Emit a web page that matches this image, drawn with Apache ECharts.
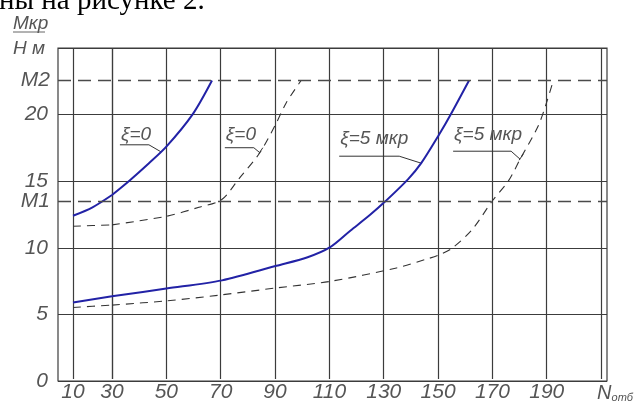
<!DOCTYPE html>
<html><head><meta charset="utf-8">
<script src="https://cdn.jsdelivr.net/npm/echarts@6/dist/echarts.min.js"></script>
<style>html,body{margin:0;padding:0;background:#fff}#c{width:636px;height:403px}</style>
</head><body><div id="c"></div>
<script>
// ---- data ----
const nTickLabels = ['10','30','50','70','90','110','130','150','170','190'];
const mTickLabels = ['0','5','10','15','20'];
const M1 = 13.5, M2 = 22.6;

const xi0SolidN = [10, 20, 30, 36.5, 43.6, 50, 59.6, 66.8];
const xi0SolidM = [12.33, 12.97, 13.9, 15.0, 16.3, 17.55, 19.97, 22.55];

const xi0DashN = [10, 30, 50, 62, 70.3, 76.6, 84.4, 90.5, 94.1, 99.6];
const xi0DashM = [11.54, 11.64, 12.29, 12.97, 13.54, 15.09, 17.09, 19.35, 20.85, 22.55];

const xi5SolidN = [10, 30, 50, 70.5, 90.5, 102, 110.3, 117.7, 125, 130.5, 139, 143.8, 150.5, 154.7, 161.4];
const xi5SolidM = [5.78, 6.25, 6.83, 7.45, 8.55, 9.2, 9.96, 11.2, 12.4, 13.4, 15.1, 16.3, 18.5, 20.0, 22.55];

const xi5DashN = [10, 30, 50, 69.3, 90.5, 110.5, 134.7, 146.8, 151, 155.3, 162.6, 170, 175.9, 180.2, 186.8, 189.9, 192.3];
const xi5DashM = [5.4, 5.58, 5.9, 6.33, 6.88, 7.38, 8.39, 9.12, 9.42, 9.9, 11.3, 13.46, 14.96, 16.6, 19.09, 20.85, 22.47];

const annotationLabels = ['ξ=0', 'ξ=0', 'ξ=5 мкр', 'ξ=5 мкр'];
const annotationN = [48, 84.4, 143.8, 180.2];

// ---- styling ----
const GOST = "'Liberation Sans Narrow','Liberation Sans',sans-serif";
const TXT = '#555';
const GRIDC = '#3c3c3c';
const BLUE = '#2222a6';

function pairs(N, M, lo, hi) {
  const out = [];
  for (let i = 0; i < N.length; i++) if (N[i] >= lo && N[i] <= hi) out.push([N[i], M[i]]);
  return out;
}
function interp(N, M, n) {
  for (let i = 1; i < N.length; i++) if (n <= N[i]) {
    const t = (n - N[i-1]) / (N[i] - N[i-1]);
    return M[i-1] + t * (M[i] - M[i-1]);
  }
  return M[M.length-1];
}

const curves = [
  {N: xi0SolidN, M: xi0SolidM, solid: true},
  {N: xi0DashN, M: xi0DashM, solid: false},
  {N: xi5SolidN, M: xi5SolidM, solid: true},
  {N: xi5DashN, M: xi5DashM, solid: false}
];

const series = [{
  type: 'line', xAxisIndex: 0, yAxisIndex: 0, data: [],
  markLine: {
    silent: true, symbol: ['none', 'none'], animation: false,
    lineStyle: {type: [13, 7], color: '#4a4a4a', width: 1.3},
    label: {position: 'start', distance: 8, formatter: p => p.name, color: TXT,
            fontFamily: GOST, fontStyle: 'italic', fontSize: 21},
    data: [{name: 'M1', yAxis: M1}, {name: 'M2', yAxis: M2}]
  }
}];
curves.forEach(c => {
  const ls = c.solid ? {color: BLUE, width: 2, type: 'solid'} : {color: '#333', width: 1.1, type: [8, 6]};
  series.push({type: 'line', xAxisIndex: 1, yAxisIndex: 1, data: pairs(c.N, c.M, 10, 30),
    smooth: 0.3, symbol: 'none', lineStyle: ls, silent: true});
  series.push({type: 'line', xAxisIndex: 2, yAxisIndex: 2, data: pairs(c.N, c.M, 30, 210),
    smooth: 0.3, symbol: 'none', lineStyle: ls, silent: true});
});

const labelStyle = {color: TXT, fontFamily: GOST, fontStyle: 'italic', fontSize: 21};
const splitStyle = {show: true, lineStyle: {color: GRIDC, width: 1.2}};

const chart = echarts.init(document.getElementById('c'), null, {renderer: 'canvas'});
chart.setOption({
  animation: false,
  backgroundColor: '#fff',
  grid: [
    {left: 58, top: 48, width: 549, height: 333, show: true, borderColor: GRIDC, borderWidth: 1.2, backgroundColor: 'transparent'},
    {left: 73, top: 48, width: 39, height: 333},
    {left: 112, top: 48, width: 495, height: 333}
  ],
  xAxis: [
    {gridIndex: 0, type: 'value', min: 0, max: 1, show: false},
    {gridIndex: 1, type: 'value', min: 10, max: 30, interval: 20,
     axisLine: {show: false}, axisTick: {show: false}, splitLine: splitStyle,
     axisLabel: Object.assign({margin: 3, showMaxLabel: false, formatter: v => nTickLabels.includes(String(v)) ? String(v) : ''}, labelStyle)},
    {gridIndex: 2, type: 'value', min: 30, max: 210, interval: 20,
     axisLine: {show: false}, axisTick: {show: false}, splitLine: splitStyle,
     axisLabel: Object.assign({margin: 3, showMaxLabel: false, formatter: v => nTickLabels.includes(String(v)) ? String(v) : ''}, labelStyle),
     name: '{n|N}{s|отб}', nameLocation: 'end', nameGap: -4,
     nameTextStyle: {align: 'left', verticalAlign: 'top', padding: [4, 0, 0, 0],
       rich: {n: {fontFamily: GOST, fontStyle: 'italic', fontSize: 20, color: TXT, verticalAlign: 'bottom'},
              s: {fontFamily: GOST, fontStyle: 'italic', fontSize: 11, color: TXT, verticalAlign: 'bottom'}}}}
  ],
  yAxis: [
    {gridIndex: 0, type: 'value', min: 0, max: 25, interval: 5,
     axisLine: {show: false}, axisTick: {show: false}, splitLine: splitStyle,
     axisLabel: Object.assign({margin: 10, formatter: v => mTickLabels.includes(String(v)) ? String(v) : ''}, labelStyle)},
    {gridIndex: 1, type: 'value', min: 0, max: 25, show: false},
    {gridIndex: 2, type: 'value', min: 0, max: 25, show: false}
  ],
  series: series
});

// ---- annotations (leader shelves) anchored on the curves ----
const annSpec = [
  {shelfDy: -7, x0: -41, x1: -12, textBase: -10, fork: false},
  {shelfDy: -5, x0: -35, x1: -6, textBase: -11, fork: true},
  {shelfDy: -7, x0: -82, x1: -22, textBase: -17, fork: false},
  {shelfDy: -8, x0: -67, x1: -9, textBase: -17, fork: true}
];
const graphics = [];
annSpec.forEach((s, i) => {
  const c = curves[i];
  const n = annotationN[i];
  const p = chart.convertToPixel({xAxisIndex: 2, yAxisIndex: 2}, [n, interp(c.N, c.M, n)]);
  const sy = p[1] + s.shelfDy;
  graphics.push({type: 'polyline', silent: true,
    shape: {points: [[p[0] + s.x0, sy], [p[0] + s.x1, sy], [p[0], p[1]]]},
    style: {stroke: '#333', lineWidth: 1, fill: null}});
  if (s.fork) {
    graphics.push({type: 'line', silent: true,
      shape: {x1: p[0] - 1, y1: p[1] + 1, x2: p[0] + 3, y2: p[1] - 5},
      style: {stroke: '#333', lineWidth: 1}});
  }
  graphics.push({type: 'text', silent: true, x: p[0] + s.x0 + 1, y: p[1] + s.textBase - 7,
    style: {text: annotationLabels[i], fontFamily: GOST, fontStyle: 'italic', fontSize: 19,
            fill: TXT, verticalAlign: 'middle', align: 'left'}});
});
// y-axis title (fraction)
graphics.push({type: 'text', silent: true, x: 13, y: 14,
  style: {text: 'Мкр', fontFamily: GOST, fontStyle: 'italic', fontSize: 19, fill: TXT, verticalAlign: 'top'}});
graphics.push({type: 'line', silent: true, shape: {x1: 13, y1: 32, x2: 45, y2: 32}, style: {stroke: '#666', lineWidth: 1}});
graphics.push({type: 'text', silent: true, x: 13, y: 39,
  style: {text: 'Н м', fontFamily: GOST, fontStyle: 'italic', fontSize: 19, fill: TXT, verticalAlign: 'top'}});
// cropped caption line at the very top
graphics.push({type: 'text', silent: true, x: -1, y: 1,
  style: {text: 'ны на рисунке 2.', fontFamily: "'Liberation Serif','Times New Roman',serif", fontSize: 29,
          fill: '#000', verticalAlign: 'middle'}});
chart.setOption({graphic: graphics});
</script>
</body></html>
